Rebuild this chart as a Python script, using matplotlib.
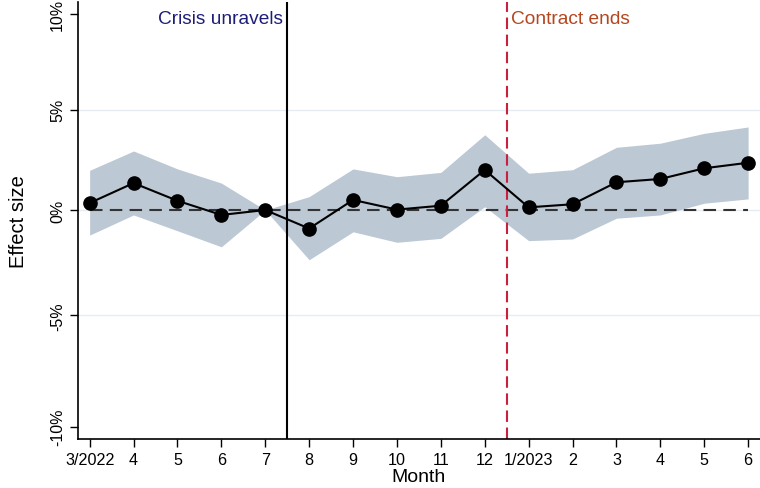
import numpy as np
import matplotlib
matplotlib.use("Agg")
import matplotlib.pyplot as plt
from matplotlib.transforms import offset_copy

plt.rcParams['font.family'] = ['Liberation Sans', 'DejaVu Sans']

months = ["3/2022", "4", "5", "6", "7", "8", "9", "10", "11", "12",
          "1/2023", "2", "3", "4", "5", "6"]
# estimates on log scale (log points)
estimate = [0.0034, 0.0131, 0.0045, -0.0024, 0.0000, -0.0090, 0.0049, 0.0002,
            0.0021, 0.0195, 0.0013, 0.0028, 0.0135, 0.0151, 0.0203, 0.0230]
ci_upper = [0.0193, 0.0287, 0.0200, 0.0131, 0.0000, 0.0065, 0.0200, 0.0162,
            0.0183, 0.0366, 0.0179, 0.0196, 0.0305, 0.0325, 0.0373, 0.0404]
ci_lower = [-0.0122, -0.0024, -0.0101, -0.0179, 0.0000, -0.0242, -0.0106, -0.0157,
            -0.0138, 0.0016, -0.0149, -0.0141, -0.0040, -0.0024, 0.0033, 0.0054]
ytick_pct = [-0.10, -0.05, 0.0, 0.05, 0.10]
ytick_labels = ["-10%", "-5%", "0%", "5%", "10%"]
crisis_pos = 4.5
contract_pos = 9.5

x = np.arange(len(months))
fig = plt.figure(figsize=(7.6, 4.89), dpi=100)
ax = fig.add_axes([0.1022, 0.1002, 0.8978, 0.8937])

yt = np.log1p(ytick_pct)
for v in [yt[1], yt[2], yt[3]]:
    ax.axhline(v, color='#E6EDF2', lw=1.0, zorder=0)

ax.fill_between(x, ci_lower, ci_upper, color='#BCC8D4', lw=0, zorder=1)
ax.plot([x[0], x[-1]], [0, 0], color='#333333', lw=1.5, dashes=(6, 3.5), zorder=2)
ax.plot(x, estimate, color='black', lw=1.5, marker='o', ms=9.5, zorder=3)

ax.axvline(crisis_pos, color='black', lw=1.5, zorder=2)
ax.axvline(contract_pos, color='#C8203F', lw=1.5, dashes=(5.5, 2.7), zorder=2)

t1 = offset_copy(ax.get_xaxis_transform(), fig=fig, x=-4, y=0, units='dots')
ax.text(crisis_pos, 0.962, "Crisis unravels", transform=t1, ha='right', va='center',
        color='#1E1E78', fontsize=13.8)
t2 = offset_copy(ax.get_xaxis_transform(), fig=fig, x=4, y=0, units='dots')
ax.text(contract_pos, 0.962, "Contract ends", transform=t2, ha='left', va='center',
        color='#B5461E', fontsize=13.8)

ax.set_xlim(-0.273, 15.27)
ax.set_ylim(-0.1114, 0.1012)
ax.set_xticks(x)
ax.set_xticklabels(months, fontsize=11.6)
ax.set_yticks(yt)
ax.set_yticklabels(ytick_labels, fontsize=11.5, rotation=90, va='center')
ax.tick_params(axis='both', direction='out', length=6, width=1, color='black')
ax.tick_params(axis='x', pad=3)
ax.tick_params(axis='y', pad=3)
for s in ['top', 'right']:
    ax.spines[s].set_visible(False)
for s in ['left', 'bottom']:
    ax.spines[s].set_linewidth(1.2)

ax.set_xlabel("Month", fontsize=14, labelpad=1)
ax.set_ylabel("Effect size", fontsize=14.5, labelpad=16)

fig.savefig("out.png", dpi=100)
